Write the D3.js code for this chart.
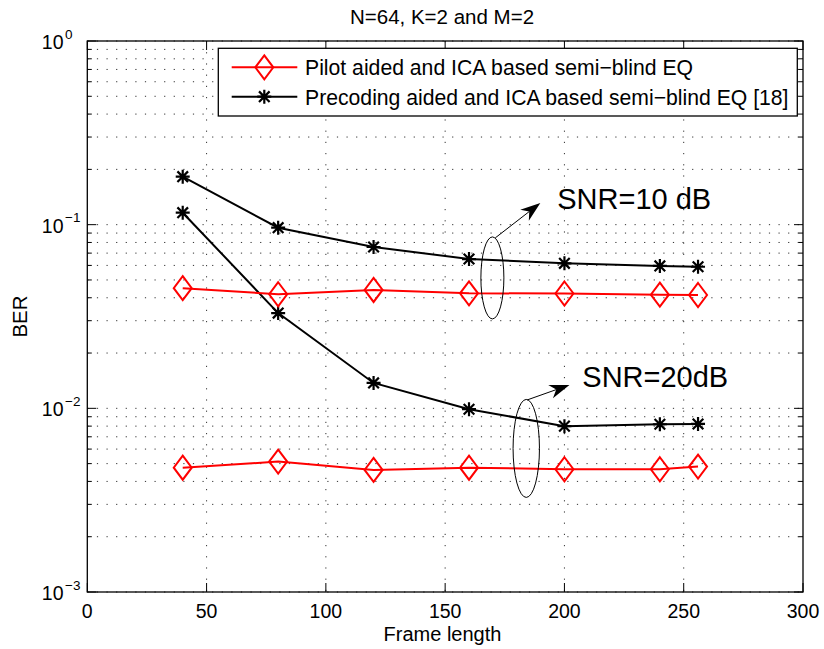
<!DOCTYPE html>
<html><head><meta charset="utf-8">
<script src="https://cdn.jsdelivr.net/npm/d3@7/dist/d3.min.js"></script>
<style>body{margin:0;background:#fff}svg{display:block;font-family:"Liberation Sans",Arial,sans-serif}</style>
</head><body><svg id="c" width="824" height="649"></svg>
<script>
const frameLength = [40, 80, 120, 160, 200, 240, 256];
const pilot10 = [0.0451, 0.0418, 0.0441, 0.0423, 0.0422, 0.0416, 0.0414];
const precod10 = [0.1825, 0.0963, 0.0756, 0.065, 0.0616, 0.0596, 0.059];
const pilot20 = [0.00475, 0.00513, 0.00462, 0.00475, 0.00466, 0.00466, 0.00482];
const precod20 = [0.1162, 0.033, 0.01375, 0.00989, 0.0080, 0.00819, 0.00822];
const xTicks = [0, 50, 100, 150, 200, 250, 300];
const yTickExp = [0, -1, -2, -3];
const legendLabels = ["Pilot aided and ICA based semi\u2212blind EQ", "Precoding aided and ICA based semi\u2212blind EQ [18]"];
const titleText = "N=64, K=2 and M=2";
const xLabel = "Frame length", yLabel = "BER";
// annotations: ellipse centre (data), arrow start/end (data), label position (data)
const annLabels = ["SNR=10 dB", "SNR=20dB"];
const annEllipse = [[169.8, 0.0513], [184.0, 0.00605]];
const annArrowFrom = [[171.0, 0.0847], [184.4, 0.01111]];
const annArrowTo = [[189.9, 0.1313], [202.1, 0.01341]];
const annText = [[197.0, 0.1218], [207.5, 0.01308]];

const svg = d3.select("#c");
const L = 87.3, R = 803, T = 41, B = 592;
const x = d3.scaleLinear().domain([0, 300]).range([L, R]);
const y = d3.scaleLog().domain([1e-3, 1]).range([B, T]);

// grid
const g = svg.append("g");
const minorVals = [];
for (let e = -3; e < 0; e++) for (let k = 1; k <= 9; k++) minorVals.push(k * Math.pow(10, e));
minorVals.push(1);
g.selectAll("line.hg").data(minorVals).join("line")
  .attr("x1", L).attr("x2", R).attr("y1", d => y(d)).attr("y2", d => y(d))
  .attr("stroke", "#333").attr("stroke-width", 1).attr("stroke-dasharray", "1.2,8.4");
g.selectAll("line.vg").data(xTicks.slice(1, -1)).join("line")
  .attr("x1", d => x(d)).attr("x2", d => x(d)).attr("y1", T).attr("y2", B)
  .attr("stroke", "#333").attr("stroke-width", 1).attr("stroke-dasharray", "1.2,10");

// axes box and ticks
svg.append("rect").attr("x", L).attr("y", T).attr("width", R - L).attr("height", B - T)
  .attr("fill", "none").attr("stroke", "#000").attr("stroke-width", 1.3);
const tk = svg.append("g").attr("stroke", "#000").attr("stroke-width", 1);
minorVals.forEach(v => {
  const isMajor = Math.abs(Math.log10(v) - Math.round(Math.log10(v))) < 1e-9;
  const len = isMajor ? 9 : 4.5;
  tk.append("line").attr("x1", L).attr("x2", L + len).attr("y1", y(v)).attr("y2", y(v));
  tk.append("line").attr("x1", R).attr("x2", R - len).attr("y1", y(v)).attr("y2", y(v));
});
xTicks.forEach(v => {
  tk.append("line").attr("x1", x(v)).attr("x2", x(v)).attr("y1", B).attr("y2", B - 9);
  tk.append("line").attr("x1", x(v)).attr("x2", x(v)).attr("y1", T).attr("y2", T + 9);
});

// tick labels
svg.selectAll("text.xt").data(xTicks).join("text")
  .attr("x", d => x(d)).attr("y", 618).attr("text-anchor", "middle")
  .attr("font-size", 19.5).text(d => d);
yTickExp.forEach(e => {
  const yy = y(Math.pow(10, e));
  svg.append("text").attr("x", 63.5).attr("y", yy + 8).attr("text-anchor", "end").attr("font-size", 19.5).text("10");
  svg.append("text").attr("x", 65).attr("y", yy - 2.5).attr("font-size", 13.5).text(e === 0 ? "0" : "\u2212" + (-e));
});

// labels
svg.append("text").attr("x", 442).attr("y", 24).attr("text-anchor", "middle").attr("font-size", 20.5).text(titleText);
svg.append("text").attr("x", 442.5).attr("y", 641).attr("text-anchor", "middle").attr("font-size", 20).text(xLabel);
svg.append("text").attr("transform", "translate(26.5," + ((T + B) / 2) + ") rotate(-90)")
  .attr("text-anchor", "middle").attr("font-size", 20.5).text(yLabel);

// markers
function diamond(sel, cx, cy) {
  sel.append("path").attr("d", `M${cx},${cy - 12}L${cx + 9},${cy}L${cx},${cy + 12}L${cx - 9},${cy}Z`)
    .attr("fill", "none").attr("stroke", "#f00").attr("stroke-width", 2);
}
function star(sel, cx, cy) {
  const r = 7, d = 5.3;
  sel.append("path").attr("d",
    `M${cx},${cy - r}V${cy + r}M${cx - r},${cy}H${cx + r}M${cx - d},${cy - d}L${cx + d},${cy + d}M${cx - d},${cy + d}L${cx + d},${cy - d}`)
    .attr("fill", "none").attr("stroke", "#000").attr("stroke-width", 2.2);
}
const line = d3.line().x(d => x(d[0])).y(d => y(d[1]));
const series = [
  {vals: precod10, color: "#000", mk: star},
  {vals: precod20, color: "#000", mk: star},
  {vals: pilot10, color: "#f00", mk: diamond},
  {vals: pilot20, color: "#f00", mk: diamond}
];
series.forEach(s => {
  const pts = frameLength.map((f, i) => [f, s.vals[i]]);
  svg.append("path").attr("d", line(pts)).attr("fill", "none").attr("stroke", s.color).attr("stroke-width", 2);
  const mg = svg.append("g");
  pts.forEach(p => s.mk(mg, x(p[0]), y(p[1])));
});

// annotations
function arrow(x1, y1, x2, y2) {
  const dx = x2 - x1, dy = y2 - y1, l = Math.hypot(dx, dy);
  const ux = dx / l, uy = dy / l, px = -uy, py = ux;
  const hl = 20, hw = 7, notch = 14;
  svg.append("line").attr("x1", x1).attr("y1", y1).attr("x2", x2 - ux * notch).attr("y2", y2 - uy * notch)
    .attr("stroke", "#000").attr("stroke-width", 1);
  const bx = x2 - ux * hl, by = y2 - uy * hl, nx = x2 - ux * notch, ny = y2 - uy * notch;
  svg.append("path").attr("d", `M${x2},${y2}L${bx + px * hw},${by + py * hw}L${nx},${ny}L${bx - px * hw},${by - py * hw}Z`)
    .attr("fill", "#000");
}
const ellR = [[11.5, 41], [13.2, 49]];
annLabels.forEach((t, i) => {
  svg.append("ellipse").attr("cx", x(annEllipse[i][0])).attr("cy", y(annEllipse[i][1]))
    .attr("rx", ellR[i][0]).attr("ry", ellR[i][1]).attr("fill", "none").attr("stroke", "#000").attr("stroke-width", 1);
  arrow(x(annArrowFrom[i][0]), y(annArrowFrom[i][1]), x(annArrowTo[i][0]), y(annArrowTo[i][1]));
  svg.append("text").attr("x", x(annText[i][0])).attr("y", y(annText[i][1])).attr("font-size", 29).text(t);
});

// legend
const lg = svg.append("g");
lg.append("rect").attr("x", 218.3).attr("y", 48.3).attr("width", 579).attr("height", 67.7)
  .attr("fill", "#fff").attr("stroke", "#000").attr("stroke-width", 1.3);
const rowsY = [67.3, 96.7];
[["#f00", diamond], ["#000", star]].forEach((c, i) => {
  lg.append("line").attr("x1", 231.7).attr("x2", 297.3).attr("y1", rowsY[i]).attr("y2", rowsY[i])
    .attr("stroke", c[0]).attr("stroke-width", 2);
  c[1](lg, 264.3, rowsY[i]);
  lg.append("text").attr("x", 305).attr("y", rowsY[i] + 8).attr("font-size", 21.2).text(legendLabels[i]);
});
</script></body></html>
